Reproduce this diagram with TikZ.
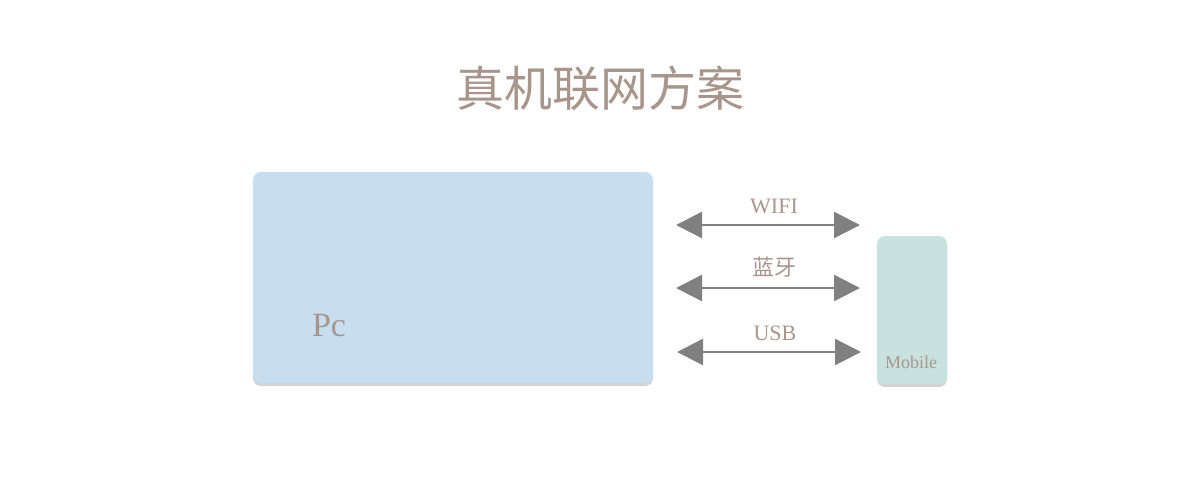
\documentclass[tikz,border=0pt]{standalone}
\usepackage{fontspec}
\setmainfont{Liberation Serif}
\newfontfamily\cjk{Noto Sans CJK SC}
\usetikzlibrary{positioning,arrows.meta,shadows}
\definecolor{txtbrown}{RGB}{168,150,140}
\definecolor{pcblue}{RGB}{199,221,240}
\definecolor{mobgreen}{RGB}{200,227,223}
\definecolor{arrgray}{RGB}{128,128,128}
\tikzset{
  device/.style={rounded corners=4pt,inner sep=0pt,
    drop shadow={shadow xshift=0pt,shadow yshift=-1.5pt,opacity=0.35,fill=black!50}},
  linklabel/.style={text=txtbrown,font=\fontsize{11pt}{13pt}\selectfont,inner sep=1pt,xshift=3pt},
  link/.style={draw=arrgray,line width=1.2pt,
    {Triangle[length=13pt,width=13pt]}-{Triangle[length=13pt,width=13pt]}},
}

\begin{document}
\begin{tikzpicture}[x=0.5pt,y=-0.5pt]
  \useasboundingbox (0,0) rectangle (1200,500);
  % title
  \node[text=txtbrown,font=\cjk\fontsize{24pt}{28pt}\selectfont] (title) at (600,88) {真机联网方案};
  % devices
  \node[device,fill=pcblue,minimum width=200pt,minimum height=105.5pt] (pc) at (453,277.5) {};
  \node[device,fill=mobgreen,minimum width=35pt,minimum height=74pt] (mobile) at (912,310) {};
  \node[text=txtbrown,font=\fontsize{17pt}{19pt}\selectfont] (pctext) at (329,326) {Pc};
  \node[text=txtbrown,font=\fontsize{9pt}{11pt}\selectfont] (mobtext) at (911,362) {Mobile};
  % links
  \coordinate (wifiL) at (676,225);  \coordinate (wifiR) at (860,225);
  \coordinate (btL)   at (676,288);  \coordinate (btR)   at (860,288);
  \coordinate (usbL)  at (677,352);  \coordinate (usbR)  at (861,352);
  \draw[link] (wifiL) -- node[linklabel,above=4pt] {WIFI} (wifiR);
  \draw[link] (btL) -- node[linklabel,above=4pt,font=\cjk\fontsize{11pt}{13pt}\selectfont] {蓝牙} (btR);
  \draw[link] (usbL) -- node[linklabel,above=4pt] {USB} (usbR);
\end{tikzpicture}
\end{document}
